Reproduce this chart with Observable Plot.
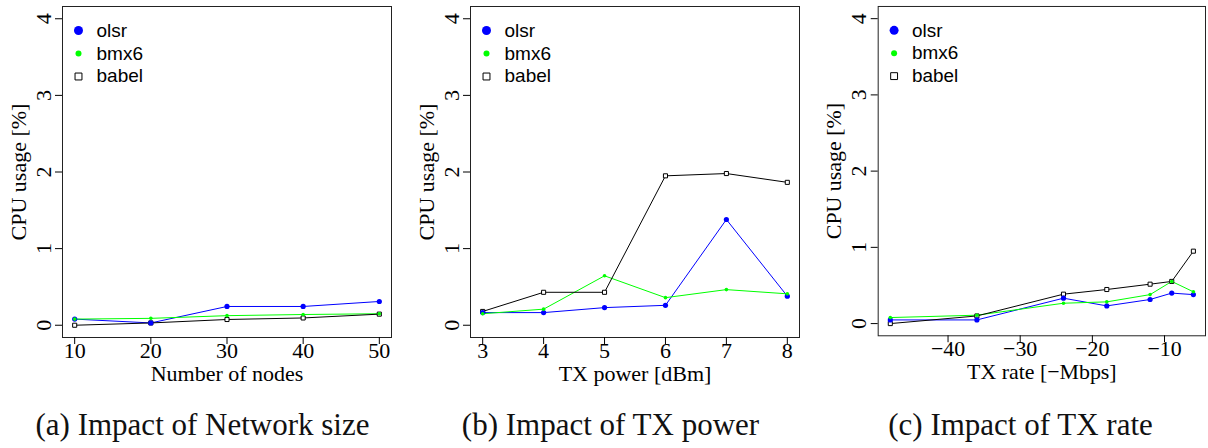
<!DOCTYPE html>
<html><head><meta charset="utf-8">
<script src="https://cdn.jsdelivr.net/npm/d3@7"></script>
<script src="https://cdn.jsdelivr.net/npm/@observablehq/plot@0.6"></script>
<style>
body{margin:0;background:#fff;width:1208px;height:448px;overflow:hidden;position:relative}
.panel{position:absolute;top:0}
.cap{position:absolute;top:409px;font-family:"Liberation Serif",serif;font-size:31px;line-height:31px;white-space:nowrap;transform:translateX(-50%);color:#111}
</style></head><body>
<script>
const series = ["olsr", "bmx6", "babel"];
const seriesColors = ["#0000ff", "#00ff00", "#000000"];
const yTicks = [0, 1, 2, 3, 4];

const nodes = [10, 20, 30, 40, 50];
const nodesOlsr = [0.08, 0.03, 0.245, 0.245, 0.31];
const nodesBmx6 = [0.08, 0.09, 0.125, 0.14, 0.15];
const nodesBabel = [0.0, 0.03, 0.075, 0.095, 0.145];
const nodesTicks = [10, 20, 30, 40, 50];

const txPower = [3, 4, 5, 6, 7, 8];
const powerOlsr = [0.165, 0.165, 0.23, 0.26, 1.38, 0.38];
const powerBmx6 = [0.15, 0.21, 0.645, 0.36, 0.465, 0.41];
const powerBabel = [0.18, 0.43, 0.43, 1.95, 1.98, 1.865];
const powerTicks = [3, 4, 5, 6, 7, 8];

const txRate = [-48, -36, -24, -18, -12, -9, -6];
const rateOlsr = [0.048, 0.048, 0.333, 0.232, 0.316, 0.40, 0.38];
const rateBmx6 = [0.079, 0.11, 0.267, 0.285, 0.38, 0.553, 0.417];
const rateBabel = [0.0, 0.10, 0.386, 0.447, 0.517, 0.553, 0.95];
const rateTicks = [-40, -30, -20, -10];

const yLabel = "CPU usage [%]";
const panels = [
  {left: 0, xs: nodes, ys: [nodesOlsr, nodesBmx6, nodesBabel], xTicks: nodesTicks, xLabel: "Number of nodes", caption: "(a) Impact of Network size", capX: 202.5},
  {left: 407.5, xs: txPower, ys: [powerOlsr, powerBmx6, powerBabel], xTicks: powerTicks, xLabel: "TX power [dBm]", caption: "(b) Impact of TX power", capX: 610.5},
  {left: 816, xs: txRate, ys: [rateOlsr, rateBmx6, rateBabel], xTicks: rateTicks, xLabel: "TX rate [\u2212Mbps]", caption: "(c) Impact of TX rate", capX: 1020.5}
];

function pad(ext) { const d = ext[1] - ext[0]; return [ext[0] - 0.04 * d, ext[1] + 0.04 * d]; }
const fmt = d => d3.format("d")(d).replace("-", "\u2212");

for (const p of panels) {
  const rows = series.flatMap((s, i) => p.xs.map((x, j) => ({series: s, x, y: p.ys[i][j]})));
  const of = s => rows.filter(d => d.series === s);
  const legend = [];
  series.forEach((s, i) => {
    const base = {frameAnchor: "top-left", dx: 16, dy: 24 + 23 * i};
    if (s === "olsr") legend.push(Plot.dot([s], {...base, r: 4.5, fill: seriesColors[0], stroke: null}));
    if (s === "bmx6") legend.push(Plot.dot([s], {...base, r: 3, fill: seriesColors[1], stroke: null}));
    if (s === "babel") legend.push(Plot.dot([s], {...base, r: 3.9, symbol: "square", fill: "white", stroke: "black", strokeWidth: 1}));
    legend.push(Plot.text([s], {text: d => d, frameAnchor: "top-left", dx: 34, dy: 30.7 + 22.5 * i, textAnchor: "start", lineAnchor: "bottom", fontFamily: "Liberation Sans", fontSize: 19, fill: "black"}));
  });
  const svg = Plot.plot({
    width: 394, height: 390,
    marginLeft: 62, marginRight: 3, marginTop: 6, marginBottom: 53,
    style: {fontFamily: "Liberation Serif", fontSize: "22px", background: "white", color: "black", overflow: "visible"},
    x: {domain: pad(d3.extent(p.xs))},
    y: {domain: [-0.16, 4.16]},
    color: {domain: series, range: seriesColors},
    marks: [
      Plot.line(rows, {x: "x", y: "y", z: "series", stroke: "series", strokeWidth: 1}),
      Plot.dot(of("babel"), {x: "x", y: "y", r: 2.3, symbol: "square", fill: "white", stroke: "black", strokeWidth: 1}),
      Plot.dot(of("olsr"), {x: "x", y: "y", r: 2.6, fill: seriesColors[0], stroke: null}),
      Plot.dot(of("bmx6"), {x: "x", y: "y", r: 1.8, fill: seriesColors[1], stroke: null}),
      Plot.frame({stroke: "#222", strokeWidth: 1}),
      Plot.axisY({ticks: yTicks, tickSize: 7, tickRotate: -90, tickPadding: 5, label: null, tickFormat: fmt, fontSize: 22}),
      Plot.axisX({ticks: p.xTicks, tickSize: 7, tickPadding: -2.5, label: null, tickFormat: fmt, fontSize: 22}),
      Plot.text([yLabel], {text: d => d, frameAnchor: "left", dx: -44, rotate: -90, textAnchor: "middle", lineAnchor: "middle", fontSize: 22}),
      Plot.text([p.xLabel], {text: d => d, frameAnchor: "bottom", dy: 43, textAnchor: "middle", lineAnchor: "bottom", fontSize: 22}),
      ...legend
    ]
  });
  const wrap = document.createElement("div");
  wrap.className = "panel";
  wrap.style.left = p.left + "px";
  wrap.appendChild(svg);
  document.body.appendChild(wrap);
  const cap = document.createElement("div");
  cap.className = "cap";
  cap.style.left = p.capX + "px";
  cap.textContent = p.caption;
  document.body.appendChild(cap);
}
</script>
</body></html>
